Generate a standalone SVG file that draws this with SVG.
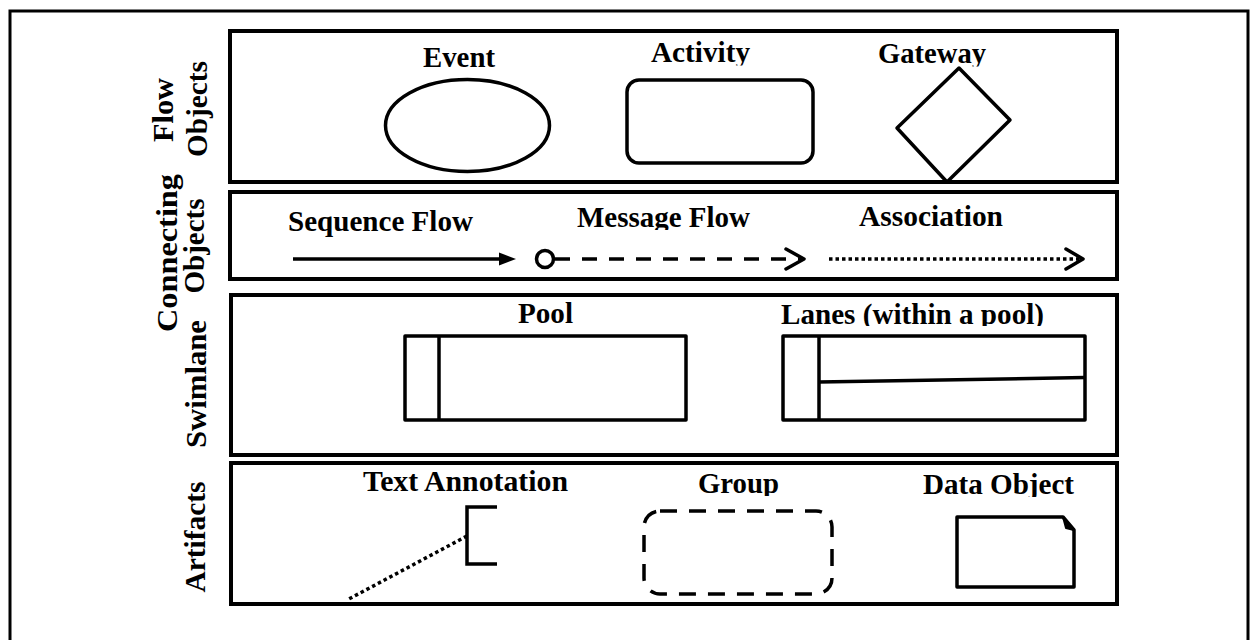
<svg xmlns="http://www.w3.org/2000/svg" width="1251" height="640" viewBox="0 0 1251 640">
<style>
.t{font-family:"Liberation Serif","Times New Roman",serif;font-weight:bold;font-size:29px;fill:#000}
.lbl{font-family:"Liberation Serif","Times New Roman",serif;font-weight:bold;font-size:30px;fill:#000;text-anchor:middle}
.panel{fill:none;stroke:#000;stroke-width:4}
.shape{fill:none;stroke:#000;stroke-width:3.5;stroke-linejoin:round}
.ln{fill:none;stroke:#000;stroke-width:3.5}
</style>
<defs>
<clipPath id="cAct"><rect x="600" y="20" width="200" height="45.5"/></clipPath>
<clipPath id="cGate"><rect x="860" y="20" width="150" height="46.5"/></clipPath>
<clipPath id="cMsg"><rect x="560" y="190" width="200" height="40"/></clipPath>
<clipPath id="cLanes"><rect x="770" y="290" width="300" height="36"/></clipPath>
<clipPath id="cGroup"><rect x="690" y="462" width="100" height="34"/></clipPath>
<clipPath id="cData"><rect x="910" y="462" width="180" height="35"/></clipPath>
</defs>
<rect x="0" y="0" width="1251" height="640" fill="#fff"/>
<rect id="frame" x="10" y="11" width="1238" height="660" fill="none" stroke="#000" stroke-width="3"/>

<g id="flow-objects">
<rect class="panel" x="230" y="31" width="887" height="151"/>
<text class="lbl" transform="translate(173,110) rotate(-90)" textLength="64" lengthAdjust="spacingAndGlyphs">Flow</text>
<text class="lbl" transform="translate(207,109) rotate(-90)" textLength="96" lengthAdjust="spacingAndGlyphs">Objects</text>
</g>
<g id="event">
<text class="t" x="423" y="67" textLength="72" lengthAdjust="spacingAndGlyphs">Event</text>
<ellipse class="shape" cx="467.5" cy="125.5" rx="82" ry="46"/>
</g>
<g id="activity">
<text class="t" x="651" y="62" textLength="99" lengthAdjust="spacingAndGlyphs" clip-path="url(#cAct)">Activity</text>
<rect class="shape" x="627" y="80" width="186" height="83" rx="12"/>
</g>
<g id="gateway">
<text class="t" x="878" y="63" textLength="108" lengthAdjust="spacingAndGlyphs" clip-path="url(#cGate)">Gateway</text>
<polygon class="shape" points="959,68 1010,120 947,182 897,128"/>
</g>

<g id="connecting-objects">
<rect class="panel" x="230" y="192" width="887" height="87"/>
<text class="lbl" transform="translate(177,253) rotate(-90)" textLength="158" lengthAdjust="spacingAndGlyphs">Connecting</text>
<text class="lbl" transform="translate(204,246) rotate(-90)" textLength="95" lengthAdjust="spacingAndGlyphs">Objects</text>
</g>
<g id="sequence-flow">
<text class="t" x="288" y="231" textLength="185" lengthAdjust="spacingAndGlyphs">Sequence Flow</text>
</g>
<g id="message-flow">
<text class="t" x="577" y="227" textLength="173" lengthAdjust="spacingAndGlyphs" clip-path="url(#cMsg)">Message Flow</text>
</g>
<g id="association">
<text class="t" x="859" y="226" textLength="144" lengthAdjust="spacingAndGlyphs">Association</text>
</g>
<g id="connectors">
<line class="ln" x1="293" y1="259" x2="501" y2="259" stroke-width="3"/>
<polygon points="499,252.5 516,259 499,265.5" fill="#000"/>
<circle cx="545" cy="259" r="8.5" fill="#fff" stroke="#000" stroke-width="3.5"/>
<line class="ln" x1="555" y1="259" x2="802" y2="259" stroke-dasharray="15 12"/>
<polyline class="ln" points="786,249 804,259 786,269" stroke-linecap="round" stroke-linejoin="round" stroke-width="4.5"/>
<line class="ln" x1="829" y1="259" x2="1081" y2="259" stroke-dasharray="3.5 3"/>
<polyline class="ln" points="1066,249 1083,259 1066,269" stroke-linecap="round" stroke-linejoin="round" stroke-width="4.5"/>
<line class="ln" x1="467" y1="536" x2="347" y2="600" stroke-dasharray="3.5 3"/>
</g>

<g id="swimlane">
<rect class="panel" x="231" y="295" width="886" height="160"/>
<text class="lbl" transform="translate(206,384) rotate(-90)" textLength="128" lengthAdjust="spacingAndGlyphs">Swimlane</text>
</g>
<g id="pool">
<text class="t" x="518" y="323" textLength="55" lengthAdjust="spacingAndGlyphs">Pool</text>
<rect class="shape" x="405" y="336" width="281" height="84"/>
<line class="ln" x1="439" y1="336" x2="439" y2="420"/>
</g>
<g id="lanes">
<text class="t" x="781" y="324" textLength="263" lengthAdjust="spacingAndGlyphs" clip-path="url(#cLanes)">Lanes (within a pool)</text>
<rect class="shape" x="783" y="336" width="302" height="84"/>
<line class="ln" x1="819" y1="336" x2="819" y2="420"/>
<line class="ln" x1="819" y1="382" x2="1085" y2="377.5"/>
</g>

<g id="artifacts">
<rect class="panel" x="231" y="463" width="886" height="141"/>
<text class="lbl" transform="translate(205,537) rotate(-90)" textLength="111" lengthAdjust="spacingAndGlyphs">Artifacts</text>
</g>
<g id="text-annotation">
<text class="t" x="363" y="491" textLength="205" lengthAdjust="spacingAndGlyphs">Text Annotation</text>
<polyline class="ln" points="497,507 467,507 467,564 497,564"/>
</g>
<g id="group">
<text class="t" x="698" y="493" textLength="81" lengthAdjust="spacingAndGlyphs" clip-path="url(#cGroup)">Group</text>
<rect class="shape" x="644" y="511" width="188" height="83" rx="16" stroke-dasharray="17 12"/>
</g>
<g id="data-object">
<text class="t" x="923" y="494" textLength="151" lengthAdjust="spacingAndGlyphs" clip-path="url(#cData)">Data Object</text>
<path class="shape" d="M957,517 L1063,517 L1074,530 L1074,587 L957,587 Z"/>
<polygon points="1063,517 1074,530 1066,528" fill="#000" stroke="#000" stroke-width="2" stroke-linejoin="round"/>
</g>
</svg>
